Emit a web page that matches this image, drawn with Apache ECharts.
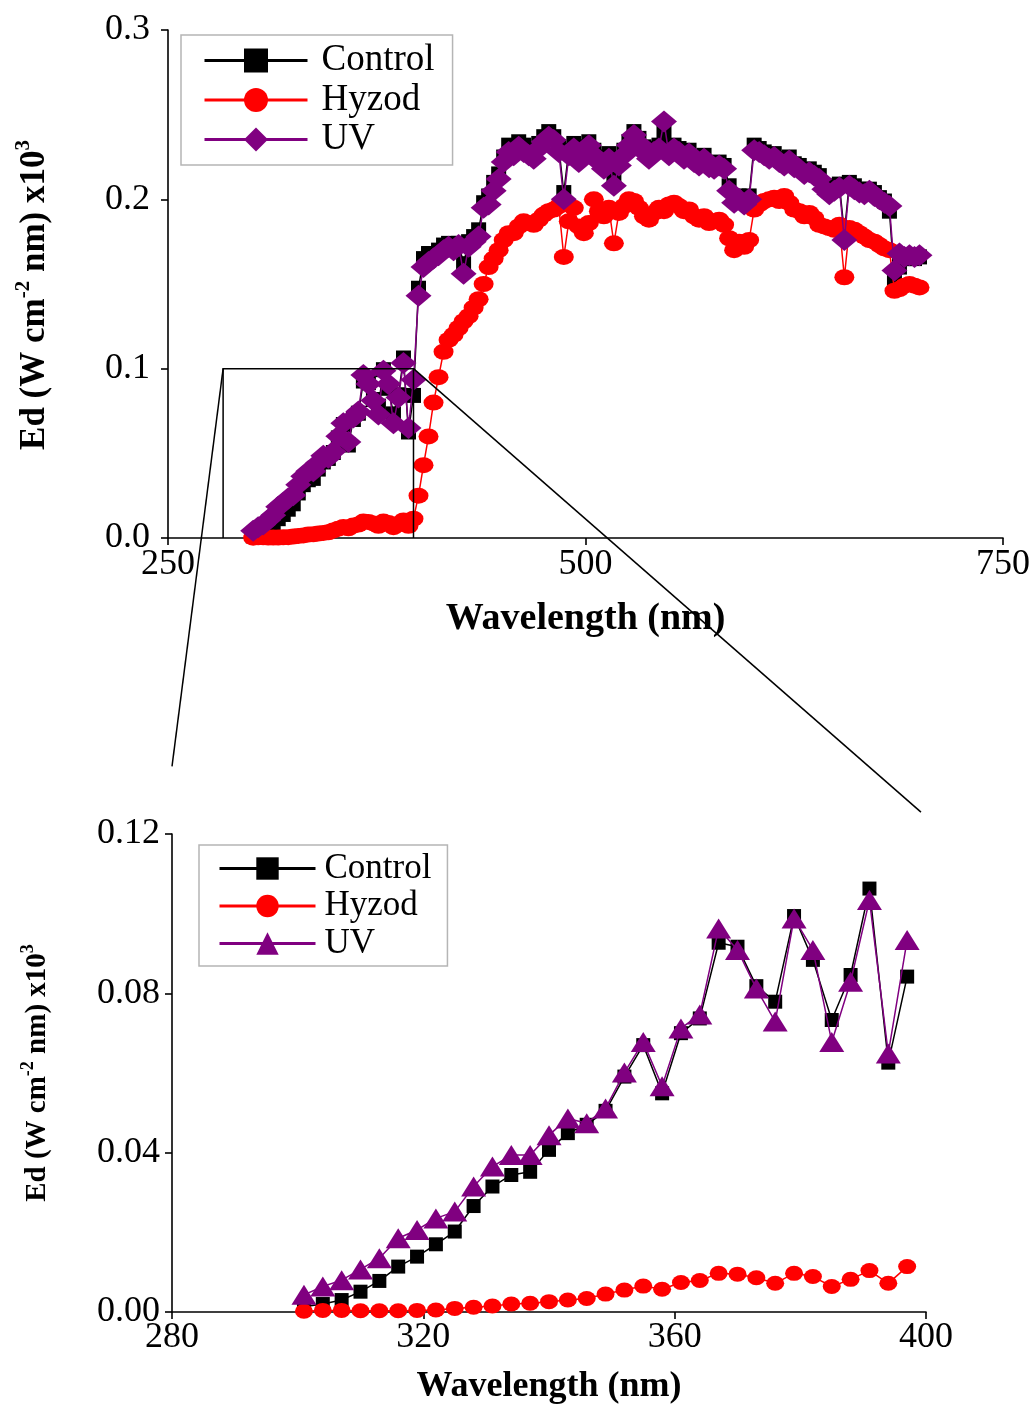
<!DOCTYPE html>
<html>
<head>
<meta charset="utf-8">
<script src="https://cdn.jsdelivr.net/npm/echarts@6/dist/echarts.min.js"></script>
<style>
  html, body { margin: 0; padding: 0; background: #ffffff; }
  #page { position: relative; width: 1036px; height: 1408px; }
  .layer { position: absolute; left: 0; top: 0; width: 1036px; height: 1408px; }
</style>
</head>
<body>
<div id="page">
  <div id="bottomChart" class="layer"></div>
  <div id="topChart" class="layer"></div>
</div>
<script>
// ---- Wavelengths (nm), 3 nm sampling ----
const wavelengthsUV = [301, 304, 307, 310, 313, 316, 319, 322, 325, 328,
  331, 334, 337, 340, 343, 346, 349, 352, 355, 358,
  361, 364, 367, 370, 373, 376, 379, 382, 385, 388,
  391, 394, 397];
const wavelengthsVis = [400, 403, 406, 409, 412, 415, 418, 421, 424, 427,
  430, 433, 436, 439, 442, 445, 448, 451, 454, 457,
  460, 463, 466, 469, 472, 475, 478, 481, 484, 487,
  490, 493, 496, 499, 502, 505, 508, 511, 514, 517,
  520, 523, 526, 529, 532, 535, 538, 541, 544, 547,
  550, 553, 556, 559, 562, 565, 568, 571, 574, 577,
  580, 583, 586, 589, 592, 595, 598, 601, 604, 607,
  610, 613, 616, 619, 622, 625, 628, 631, 634, 637,
  640, 643, 646, 649, 652, 655, 658, 661, 664, 667,
  670, 673, 676, 679, 682, 685, 688, 691, 694, 697,
  700];

// ---- Spectral irradiance Ed (W cm-2 nm) x10^3, UV band 301-397 nm ----
const controlUV = [0.0013, 0.0020, 0.0030, 0.0051, 0.0078, 0.0114, 0.0139, 0.0170, 0.0202, 0.0266,
  0.0315, 0.0344, 0.0352, 0.0407, 0.0449, 0.0470, 0.0505, 0.0591, 0.0670, 0.0549,
  0.0700, 0.0737, 0.0927, 0.0917, 0.0818, 0.0779, 0.0994, 0.0884, 0.0733, 0.0846,
  0.1063, 0.0626, 0.0842];
const hyzodUV = [0.0002, 0.0004, 0.0004, 0.0003, 0.0003, 0.0003, 0.0004, 0.0005, 0.0009, 0.0012,
  0.0015, 0.0020, 0.0022, 0.0026, 0.0030, 0.0034, 0.0045, 0.0055, 0.0065, 0.0057,
  0.0074, 0.0079, 0.0097, 0.0095, 0.0086, 0.0072, 0.0097, 0.0089, 0.0064, 0.0082,
  0.0104, 0.0072, 0.0114];
const uvFilmUV = [0.0043, 0.0064, 0.0080, 0.0107, 0.0135, 0.0185, 0.0206, 0.0235, 0.0252, 0.0315,
  0.0365, 0.0394, 0.0394, 0.0444, 0.0486, 0.0474, 0.0511, 0.0601, 0.0678, 0.0567,
  0.0712, 0.0747, 0.0963, 0.0909, 0.0812, 0.0729, 0.0988, 0.0909, 0.0678, 0.0829,
  0.1034, 0.0649, 0.0934];

// ---- Visible band 400-700 nm ----
const controlVis = [0.1475, 0.165, 0.168, 0.168, 0.170, 0.173, 0.174, 0.172, 0.174, 0.162,
  0.175, 0.178, 0.182, 0.198, 0.202, 0.210, 0.215, 0.225, 0.232, 0.230,
  0.234, 0.232, 0.229, 0.228, 0.233, 0.237, 0.240, 0.237, 0.231, 0.204,
  0.229, 0.233, 0.226, 0.231, 0.234, 0.229, 0.225, 0.221, 0.227, 0.212,
  0.223, 0.229, 0.234, 0.240, 0.236, 0.231, 0.227, 0.230, 0.232, 0.240,
  0.229, 0.232, 0.230, 0.227, 0.229, 0.225, 0.223, 0.226, 0.221, 0.220,
  0.222, 0.220, 0.208, 0.200, 0.202, 0.199, 0.202, 0.232, 0.230, 0.228,
  0.226, 0.227, 0.224, 0.222, 0.225, 0.221, 0.220, 0.217, 0.218, 0.216,
  0.214, 0.208, 0.205, 0.207, 0.209, 0.180, 0.210, 0.208, 0.206, 0.205,
  0.206, 0.204, 0.201, 0.199, 0.193, 0.152, 0.160, 0.165, 0.166, 0.165,
  0.166];
const hyzodVis = [0.025, 0.043, 0.060, 0.080, 0.095, 0.110, 0.117, 0.120, 0.124, 0.128,
  0.131, 0.136, 0.141, 0.150, 0.160, 0.165, 0.170, 0.176, 0.180, 0.180,
  0.184, 0.187, 0.186, 0.185, 0.188, 0.191, 0.193, 0.194, 0.196, 0.166,
  0.187, 0.195, 0.184, 0.180, 0.186, 0.200, 0.193, 0.190, 0.195, 0.174,
  0.192, 0.196, 0.200, 0.199, 0.195, 0.190, 0.188, 0.192, 0.195, 0.193,
  0.197, 0.198, 0.196, 0.193, 0.194, 0.190, 0.188, 0.190, 0.186, 0.187,
  0.188, 0.185, 0.177, 0.170, 0.175, 0.172, 0.176, 0.194, 0.197, 0.199,
  0.200, 0.201, 0.199, 0.202, 0.198, 0.194, 0.193, 0.190, 0.192, 0.189,
  0.185, 0.184, 0.183, 0.182, 0.185, 0.154, 0.183, 0.182, 0.180, 0.178,
  0.176, 0.175, 0.173, 0.171, 0.170, 0.146, 0.147, 0.149, 0.150, 0.149,
  0.148];
const uvFilmVis = [0.143, 0.160, 0.163, 0.165, 0.167, 0.170, 0.172, 0.170, 0.173, 0.156,
  0.172, 0.175, 0.178, 0.195, 0.197, 0.205, 0.212, 0.222, 0.228, 0.226,
  0.231, 0.228, 0.226, 0.224, 0.230, 0.234, 0.237, 0.235, 0.228, 0.200,
  0.226, 0.230, 0.222, 0.228, 0.232, 0.226, 0.222, 0.218, 0.224, 0.208,
  0.220, 0.226, 0.232, 0.238, 0.233, 0.228, 0.224, 0.228, 0.230, 0.246,
  0.226, 0.230, 0.228, 0.224, 0.227, 0.222, 0.220, 0.224, 0.219, 0.218,
  0.220, 0.218, 0.205, 0.198, 0.200, 0.197, 0.200, 0.229, 0.228, 0.226,
  0.224, 0.225, 0.222, 0.220, 0.223, 0.219, 0.218, 0.215, 0.216, 0.214,
  0.212, 0.206, 0.203, 0.205, 0.207, 0.176, 0.208, 0.206, 0.204, 0.203,
  0.205, 0.202, 0.200, 0.198, 0.196, 0.158, 0.168, 0.166, 0.167, 0.166,
  0.167];

// ---- Axis ticks ----
const fullXTicks = [250, 500, 750];
const fullYTicks = [0.0, 0.1, 0.2, 0.3];
const zoomXTicks = [280, 320, 360, 400];
const zoomYTicks = [0.00, 0.04, 0.08, 0.12];

const seriesNames = ['Control', 'Hyzod', 'UV'];

// Inset window marked on the full spectrum (nm, Ed)
const insetWindowNm = [283, 397];
const insetWindowEd = [0, 0.1];
// Where the connector lines end above the zoomed panel (in its data units)
const connectorLeftEnd = [280, 0.137];
const connectorRightEnd = [399.2, 0.1255];

const SERIF = "'Liberation Serif', 'Times New Roman', 'DejaVu Serif', serif";
const COLORS = { control: '#000000', hyzod: '#ff0000', uv: '#800080' };

function pairs(xs, ys) { return xs.map((x, i) => [x, ys[i]]); }

function lineSeries(name, xs, ys, color, symbol, size, z) {
  return {
    name: name, type: 'line', data: pairs(xs, ys),
    symbol: symbol, symbolSize: size, showSymbol: true, clip: false,
    lineStyle: { color: color, width: 1.5 },
    itemStyle: { color: color, borderWidth: 0 },
    emphasis: { disabled: true }, z: z, animation: false
  };
}

function axisTitle(fontSize, supSize, padding) {
  return {
    padding: padding,
    rich: {
      b: { fontFamily: SERIF, fontWeight: 'bold', fontSize: fontSize, color: '#000', verticalAlign: 'bottom', lineHeight: fontSize + 4 },
      s: { fontFamily: SERIF, fontWeight: 'bold', fontSize: supSize, color: '#000', verticalAlign: 'top', lineHeight: supSize + 2 }
    }
  };
}

function valueAxis(ticks, decimals, labelSize, labelMargin, extra) {
  return Object.assign({
    type: 'value',
    min: ticks[0], max: ticks[ticks.length - 1], interval: ticks[1] - ticks[0],
    axisLine: { show: true, onZero: false, lineStyle: { color: '#000', width: 1.6 } },
    axisTick: { show: true, inside: false, length: 7, lineStyle: { color: '#000', width: 1.6 } },
    axisLabel: {
      color: '#000', fontFamily: SERIF, fontSize: labelSize, margin: labelMargin,
      formatter: v => v.toFixed(decimals)
    },
    splitLine: { show: false }
  }, extra);
}

function legendBox(left, top, padding, itemWidth, itemHeight, itemGap, fontSize, lineHeight, textPad) {
  return {
    orient: 'vertical', left: left, top: top, padding: padding,
    itemWidth: itemWidth, itemHeight: itemHeight, itemGap: itemGap,
    borderColor: '#b5b5b5', borderWidth: 1.5, backgroundColor: '#ffffff',
    lineStyle: { width: 3 },
    textStyle: { fontFamily: SERIF, fontSize: fontSize, lineHeight: lineHeight, color: '#000', padding: [0, 0, 0, textPad] },
    selectedMode: false,
    data: seriesNames
  };
}

// ---------- Full spectrum panel ----------
const fullX = wavelengthsUV.concat(wavelengthsVis);
const topChart = echarts.init(document.getElementById('topChart'), null, { renderer: 'canvas' });
topChart.setOption({
  animation: false,
  backgroundColor: 'transparent',
  grid: { left: 168, right: 33, top: 30, bottom: 870 },
  legend: legendBox(181, 35, [7, 18, 7, 22], 103, 30, 2.5, 37, 32, 9),
  xAxis: valueAxis(fullXTicks, 0, 36, 9, {
    name: 'Wavelength (nm)', nameLocation: 'middle', nameGap: 62,
    nameTextStyle: { fontFamily: SERIF, fontWeight: 'bold', fontSize: 38, color: '#000' }
  }),
  yAxis: valueAxis(fullYTicks, 1, 36, 18, {
    name: '{b|Ed (W cm}{s|-2}{b| nm) x10}{s|3}', nameLocation: 'middle', nameGap: 116,
    nameTextStyle: axisTitle(35, 21, [0, 22, 0, 0])
  }),
  series: [
    lineSeries('Control', fullX, controlUV.concat(controlVis), COLORS.control, 'rect', 15, 2),
    lineSeries('Hyzod', fullX, hyzodUV.concat(hyzodVis), COLORS.hyzod, 'circle', [20, 16], 3),
    lineSeries('UV', fullX, uvFilmUV.concat(uvFilmVis), COLORS.uv, 'diamond', [26, 22], 4)
  ]
});

// ---------- UV band panel ----------
const bottomChart = echarts.init(document.getElementById('bottomChart'), null, { renderer: 'canvas' });
bottomChart.setOption({
  animation: false,
  backgroundColor: '#ffffff',
  grid: { left: 172, right: 110, top: 834, bottom: 96 },
  legend: legendBox(199, 845, [6, 16, 5, 19], 96, 28, 2.5, 35, 30, 4),
  xAxis: valueAxis(zoomXTicks, 0, 36, 8, {
    name: 'Wavelength (nm)', nameLocation: 'middle', nameGap: 57,
    nameTextStyle: { fontFamily: SERIF, fontWeight: 'bold', fontSize: 36, color: '#000' }
  }),
  yAxis: valueAxis(zoomYTicks, 2, 36, 12, {
    name: '{b|Ed (W cm}{s|-2}{b| nm) x10}{s|3}', nameLocation: 'middle', nameGap: 120,
    nameTextStyle: axisTitle(29, 18, [0, 0, 0, 0])
  }),
  series: [
    lineSeries('Control', wavelengthsUV, controlUV, COLORS.control, 'rect', 14, 2),
    lineSeries('Hyzod', wavelengthsUV, hyzodUV, COLORS.hyzod, 'circle', [18, 15], 3),
    lineSeries('UV', wavelengthsUV, uvFilmUV, COLORS.uv, 'triangle', [25, 20], 4)
  ]
});

// ---------- Inset window and connector lines ----------
const pTL = topChart.convertToPixel({ gridIndex: 0 }, [insetWindowNm[0], insetWindowEd[1]]);
const pTR = topChart.convertToPixel({ gridIndex: 0 }, [insetWindowNm[1], insetWindowEd[1]]);
const pBL = topChart.convertToPixel({ gridIndex: 0 }, [insetWindowNm[0], insetWindowEd[0]]);
const pBR = topChart.convertToPixel({ gridIndex: 0 }, [insetWindowNm[1], insetWindowEd[0]]);
const pLeftEnd = bottomChart.convertToPixel({ gridIndex: 0 }, connectorLeftEnd);
const pRightEnd = bottomChart.convertToPixel({ gridIndex: 0 }, connectorRightEnd);
const frameStyle = { stroke: '#000', lineWidth: 1.5, fill: null };
topChart.setOption({
  graphic: [
    { type: 'polyline', z: 100, silent: true, shape: { points: [pBL, pTL, pTR, pBR] }, style: frameStyle },
    { type: 'line', z: 100, silent: true, shape: { x1: pTL[0], y1: pTL[1], x2: pLeftEnd[0], y2: pLeftEnd[1] }, style: frameStyle },
    { type: 'line', z: 100, silent: true, shape: { x1: pTR[0], y1: pTR[1], x2: pRightEnd[0], y2: pRightEnd[1] }, style: frameStyle }
  ]
});
</script>
</body>
</html>
